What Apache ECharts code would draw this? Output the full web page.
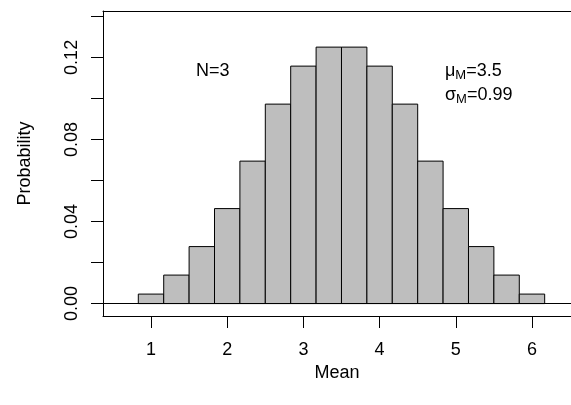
<!DOCTYPE html>
<html>
<head>
<meta charset="utf-8">
<script src="https://cdn.jsdelivr.net/npm/echarts@6/dist/echarts.min.js"></script>
<style>
  html, body { margin: 0; padding: 0; background: #fff; }
  #chart { width: 571px; height: 405px; }
</style>
</head>
<body>
<div id="chart"></div>
<script>
// Sampling distribution of the mean of N=3 fair dice
const means = [1, 4/3, 5/3, 2, 7/3, 8/3, 3, 10/3, 11/3, 4, 13/3, 14/3, 5, 16/3, 17/3, 6];
const probs = [0.00463, 0.01389, 0.02778, 0.04630, 0.06944, 0.09722, 0.11574, 0.12500,
               0.12500, 0.11574, 0.09722, 0.06944, 0.04630, 0.02778, 0.01389, 0.00463];
const binWidth = 1 / 3;
const xTicks = [1, 2, 3, 4, 5, 6];
const yTicks = [0, 0.02, 0.04, 0.06, 0.08, 0.10, 0.12, 0.14];
const yLabels = [0, 0.04, 0.08, 0.12];

const font = 'Liberation Sans, Arial, Helvetica, sans-serif';
const chart = echarts.init(document.getElementById('chart'), null, { renderer: 'canvas' });

const binData = means.map((m, i) => [m - binWidth / 2, m + binWidth / 2, probs[i]]);

chart.setOption({
  animation: false,
  backgroundColor: '#ffffff',
  grid: { left: 103, right: 0, top: 11, bottom: 89 },
  xAxis: [{
    type: 'value',
    min: 0.37,
    max: 6.512,
    position: 'bottom',
    splitLine: { show: false },
    axisLine: { show: true, onZero: false, lineStyle: { color: '#000', width: 1 } },
    axisTick: { show: true, customValues: xTicks, length: 12, inside: false, lineStyle: { color: '#000', width: 1 } },
    axisLabel: { customValues: xTicks, margin: 25, color: '#000', fontSize: 18, fontFamily: font },
    name: 'Mean',
    nameLocation: 'middle',
    nameGap: 45,
    nameTextStyle: { color: '#000', fontSize: 18, fontFamily: font, verticalAlign: 'top' }
  }, {
    type: 'value',
    min: 0.37,
    max: 6.512,
    position: 'top',
    splitLine: { show: false },
    axisLine: { show: true, onZero: false, lineStyle: { color: '#000', width: 1 } },
    axisTick: { show: false },
    axisLabel: { show: false }
  }],
  yAxis: {
    type: 'value',
    min: -0.00605,
    max: 0.1426,
    splitLine: { show: false },
    axisLine: { show: true, onZero: false, lineStyle: { color: '#000', width: 1 } },
    axisTick: { show: true, customValues: yTicks, length: 12, lineStyle: { color: '#000', width: 1 } },
    axisLabel: {
      customValues: yLabels,
      rotate: 90,
      margin: 22,
      color: '#000',
      fontSize: 18,
      fontFamily: font,
      formatter: v => v.toFixed(2)
    },
    name: 'Probability',
    nameLocation: 'middle',
    nameGap: 69,
    nameRotate: 90,
    nameTextStyle: { color: '#000', fontSize: 18, fontFamily: font }
  },
  series: [{
    type: 'custom',
    xAxisIndex: 0,
    yAxisIndex: 0,
    data: binData,
    encode: { x: [0, 1], y: 2 },
    renderItem: function (params, api) {
      const p0 = api.coord([api.value(0), api.value(2)]);
      const p1 = api.coord([api.value(1), 0]);
      return {
        type: 'rect',
        shape: { x: p0[0], y: p0[1], width: p1[0] - p0[0], height: p1[1] - p0[1] },
        style: { fill: '#bebebe', stroke: '#000', lineWidth: 1 }
      };
    },
    markLine: {
      silent: true,
      symbol: 'none',
      label: { show: false },
      lineStyle: { color: '#000', width: 1, type: 'solid' },
      data: [{ yAxis: 0 }]
    },
    z: 2
  }],
  graphic: [{
    type: 'text',
    left: 196,
    top: 62,
    style: { text: 'N=3', fill: '#000', font: '18px ' + font }
  }, {
    type: 'text',
    left: 445,
    top: 62,
    style: {
      text: '{g|μ}{s|M}{g|=3.5}\n{g|σ}{s|M}{g|=0.99}',
      rich: {
        g: { fontSize: 18, fontFamily: font, fill: '#000', lineHeight: 24, verticalAlign: 'bottom' },
        s: { fontSize: 13, fontFamily: font, fill: '#000', lineHeight: 24, verticalAlign: 'bottom', padding: [0, 0, -2, 0] }
      }
    }
  }]
});
</script>
</body>
</html>
